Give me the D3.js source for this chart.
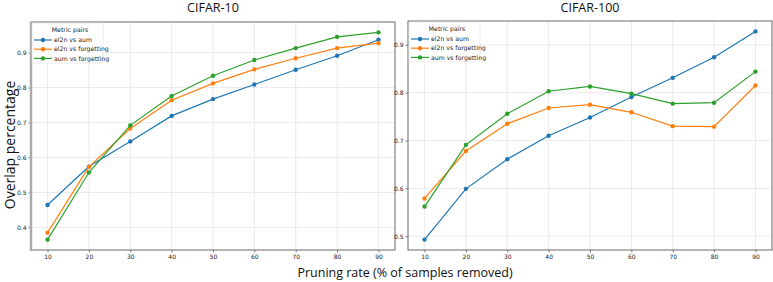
<!DOCTYPE html>
<html>
<head>
<meta charset="utf-8">
<script src="https://cdn.jsdelivr.net/npm/d3@7"></script>
<style>
  body { margin: 0; background: #fff; }
  svg { display: block; }
  .tick text { font-family: "DejaVu Sans", sans-serif; font-size: 6px; fill: #222; }
  .big { font-family: "Open Sans", "Noto Sans", sans-serif; fill: #111; }
</style>
</head>
<body>
<svg id="chart" width="773" height="282"></svg>
<script>
// pruning rates on the x axis
const rates = [10, 20, 30, 40, 50, 60, 70, 80, 90];
const seriesNames = ["el2n vs aum", "el2n vs forgetting", "aum vs forgetting"];
const colors = ["#1f77b4", "#ff7f0e", "#2ca02c"];

// CIFAR-10 overlaps
const c10El2nAum = [0.464, 0.574, 0.646, 0.719, 0.767, 0.809, 0.851, 0.891, 0.937];
const c10El2nForget = [0.385, 0.573, 0.683, 0.764, 0.812, 0.852, 0.884, 0.913, 0.927];
const c10AumForget = [0.365, 0.557, 0.692, 0.776, 0.834, 0.879, 0.913, 0.945, 0.958];

// CIFAR-100 overlaps
const c100El2nAum = [0.493, 0.599, 0.661, 0.710, 0.748, 0.791, 0.831, 0.874, 0.928];
const c100El2nForget = [0.579, 0.678, 0.735, 0.768, 0.775, 0.759, 0.730, 0.729, 0.815];
const c100AumForget = [0.562, 0.691, 0.756, 0.803, 0.813, 0.798, 0.777, 0.779, 0.844];

const yTicks10 = [0.4, 0.5, 0.6, 0.7, 0.8, 0.9];
const yTicks100 = [0.5, 0.6, 0.7, 0.8, 0.9];

const svg = d3.select("#chart");

const panels = [
  { title: "CIFAR-10", series: [c10El2nAum, c10El2nForget, c10AumForget], yTicks: yTicks10,
    box: { x0: 31, x1: 395, y0: 22, y1: 250 }, thickLeft: true },
  { title: "CIFAR-100", series: [c100El2nAum, c100El2nForget, c100AumForget], yTicks: yTicks100,
    box: { x0: 408, x1: 772, y0: 21, y1: 250 }, thickLeft: false }
];

panels.forEach(p => {
  const b = p.box;
  const all = p.series.flat();
  const lo = d3.min(all), hi = d3.max(all), pad = (hi - lo) * 0.05;

  // matplotlib style 5% margins
  const x = d3.scaleLinear().domain([6, 94]).range([b.x0, b.x1]);
  const y = d3.scaleLinear().domain([lo - pad, hi + pad]).range([b.y1, b.y0]);

  const g = svg.append("g");

  // grid
  g.append("g").selectAll("line").data(rates).join("line")
    .attr("x1", d => x(d)).attr("x2", d => x(d))
    .attr("y1", b.y0).attr("y2", b.y1)
    .attr("stroke", "#e6e6e6").attr("stroke-width", 0.8);
  g.append("g").selectAll("line").data(p.yTicks).join("line")
    .attr("x1", b.x0).attr("x2", b.x1)
    .attr("y1", d => y(d)).attr("y2", d => y(d))
    .attr("stroke", "#e6e6e6").attr("stroke-width", 0.8);

  // axes
  const xAxis = g.append("g")
    .attr("transform", `translate(0,${b.y1})`)
    .call(d3.axisBottom(x).tickValues(rates).tickSize(2.5).tickPadding(2));
  const yAxis = g.append("g")
    .attr("transform", `translate(${b.x0},0)`)
    .call(d3.axisLeft(y).tickValues(p.yTicks).tickFormat(d3.format(".1f")).tickSize(2.5).tickPadding(2));
  [xAxis, yAxis].forEach(a => {
    a.select(".domain").remove();
    a.selectAll(".tick line").attr("stroke", "#333").attr("stroke-width", 0.6);
  });

  // frame
  g.append("rect")
    .attr("x", b.x0).attr("y", b.y0)
    .attr("width", b.x1 - b.x0).attr("height", b.y1 - b.y0)
    .attr("fill", "none").attr("stroke", "#444").attr("stroke-width", 0.8);
  if (p.thickLeft) {
    g.append("line")
      .attr("x1", b.x0).attr("x2", b.x0).attr("y1", b.y0).attr("y2", b.y1 + 1)
      .attr("stroke", "#aaa").attr("stroke-width", 2.5);
  }

  // lines + markers
  const line = d3.line().x((d, i) => x(rates[i])).y(d => y(d));
  p.series.forEach((s, k) => {
    g.append("path").datum(s)
      .attr("d", line).attr("fill", "none")
      .attr("stroke", colors[k]).attr("stroke-width", 1.2);
    g.append("g").selectAll("circle").data(s).join("circle")
      .attr("cx", (d, i) => x(rates[i])).attr("cy", d => y(d))
      .attr("r", 2.2).attr("fill", colors[k]);
  });

  // title
  svg.append("text").attr("class", "big")
    .attr("x", (b.x0 + b.x1) / 2).attr("y", 12)
    .attr("text-anchor", "middle").attr("font-size", 12.5)
    .text(p.title);

  // legend
  const lg = g.append("g").attr("transform", `translate(${b.x0 + 1},${b.y0 + 1})`);
  lg.append("rect")
    .attr("width", 71).attr("height", 40).attr("rx", 1.5)
    .attr("fill", "#fff").attr("fill-opacity", 0.85)
    .attr("stroke", "#ddd").attr("stroke-width", 0.6);
  lg.append("text")
    .attr("x", 38).attr("y", 9)
    .attr("text-anchor", "middle")
    .attr("font-family", "DejaVu Sans, sans-serif").attr("font-size", 6.2).attr("fill", "#222")
    .text("Metric pairs");
  seriesNames.forEach((n, k) => {
    const yy = 17 + k * 9.2;
    lg.append("line").attr("x1", 2).attr("x2", 20).attr("y1", yy).attr("y2", yy)
      .attr("stroke", colors[k]).attr("stroke-width", 1.2);
    lg.append("circle").attr("cx", 11).attr("cy", yy).attr("r", 2.2).attr("fill", colors[k]);
    lg.append("text")
      .attr("x", 22).attr("y", yy + 2.2)
      .attr("font-family", "DejaVu Sans, sans-serif").attr("font-size", 6.2).attr("fill", "#222")
      .text(n);
  });
});

// shared labels
svg.append("text").attr("class", "big")
  .attr("transform", "translate(15,145) rotate(-90)")
  .attr("text-anchor", "middle").attr("font-size", 14)
  .text("Overlap percentage");
svg.append("text").attr("class", "big")
  .attr("x", 405).attr("y", 277)
  .attr("text-anchor", "middle").attr("font-size", 12.5)
  .text("Pruning rate (% of samples removed)");
</script>
</body>
</html>
